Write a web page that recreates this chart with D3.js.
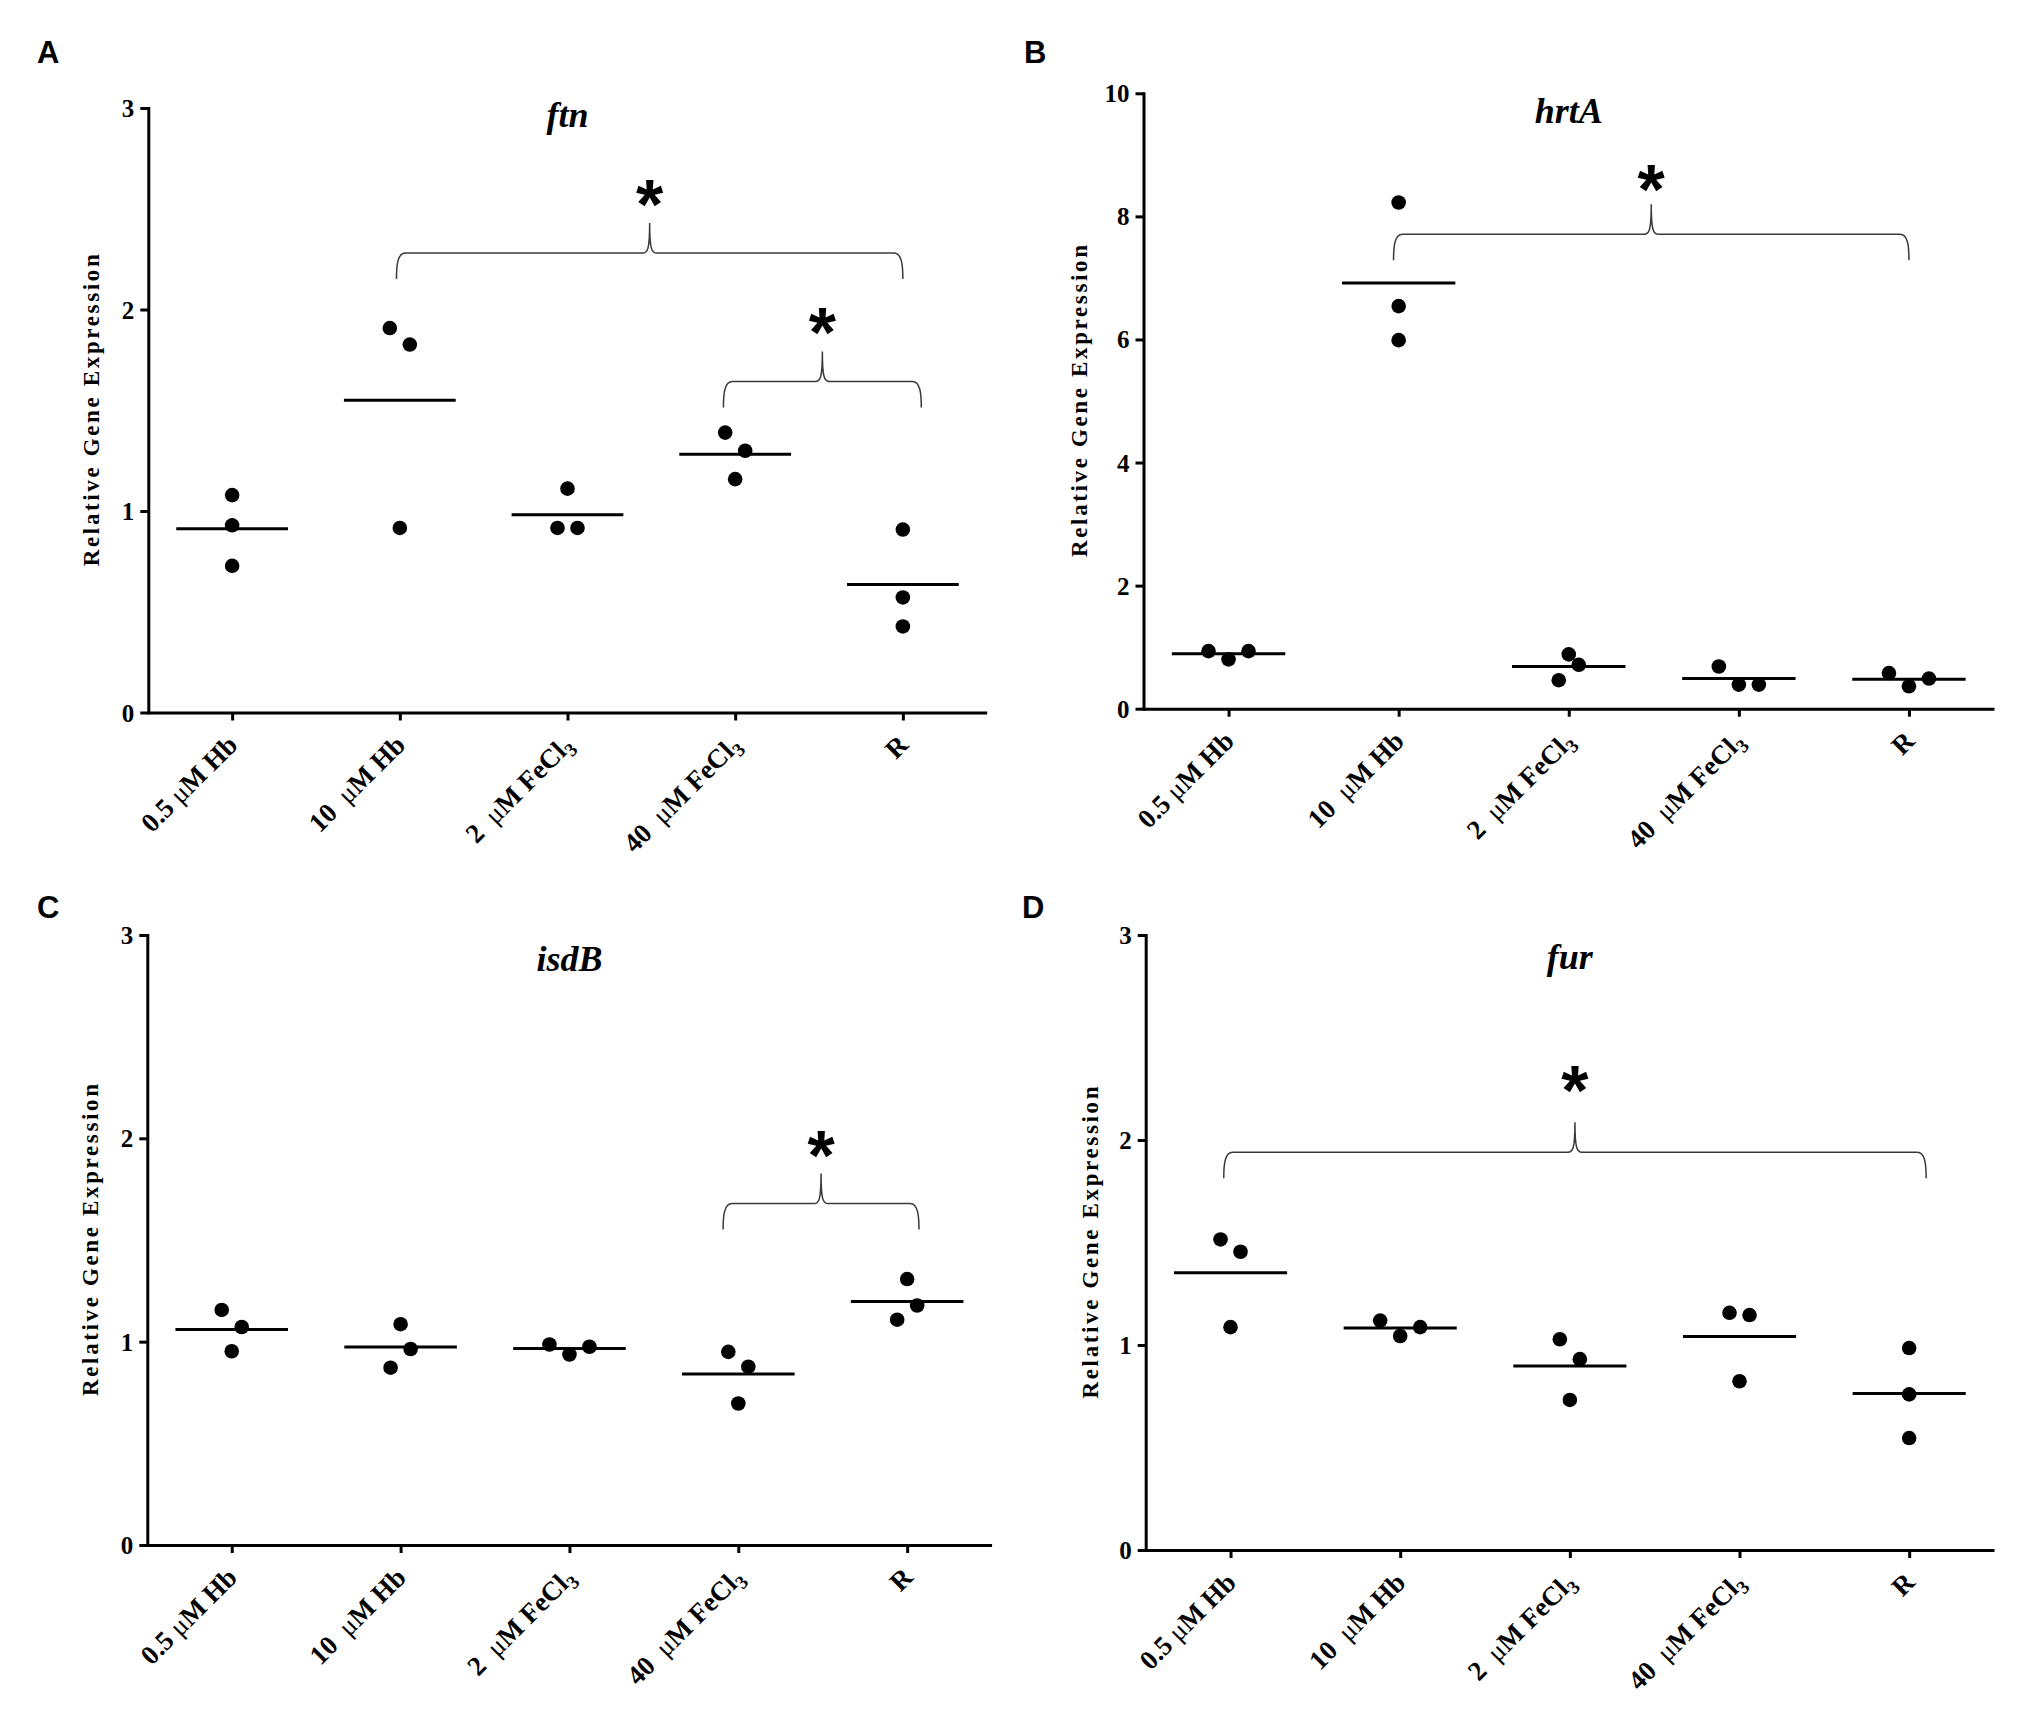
<!DOCTYPE html>
<html>
<head>
<meta charset="utf-8">
<script src="https://cdn.jsdelivr.net/npm/d3@7"></script>
<style>
	body { margin: 0; background: #fff; }
	svg { display: block; }
</style>
</head>
<body>
<div id="chart"></div>
<script>
// x categories, same for all four panels
var categories = ["0.5 μM Hb", "10  μM Hb", "2  μM FeCl3", "40  μM FeCl3", "R"];

var ticks3 = [0, 1, 2, 3];
var ticks10 = [0, 2, 4, 6, 8, 10];

// replicate values per category
var ftnValues = [[1.079, 0.929, 0.728], [1.908, 1.826, 0.916], [1.111, 0.916, 0.916], [1.389, 1.299, 1.158], [0.908, 0.571, 0.427]];
var hrtAValues = [[0.936, 0.802, 0.936], [8.226, 6.542, 5.989], [0.882, 0.713, 0.463], [0.686, 0.392, 0.392], [0.579, 0.365, 0.490]];
var isdBValues = [[1.156, 1.072, 0.953], [1.086, 0.964, 0.872], [0.986, 0.937, 0.975], [0.950, 0.877, 0.696], [1.308, 1.178, 1.108]];
var furValues = [[1.515, 1.455, 1.087], [1.119, 1.044, 1.087], [1.028, 0.931, 0.732], [1.157, 1.146, 0.823], [0.985, 0.759, 0.546]];

// which side of the column each replicate sits on (scatter lane)
var ftnLanes = [[0, 0, 0], [-0.5, 0.5, 0], [0, -0.5, 0.5], [-0.5, 0.5, 0], [0, 0, 0]];
var hrtALanes = [[-1, 0, 1], [0, 0, 0], [0, 0.5, -0.5], [-1, 0, 1], [-1, 0, 1]];
var isdBLanes = [[-0.5, 0.5, 0], [0, 0.5, -0.5], [-1, 0, 1], [-0.5, 0.5, 0], [0, 0.5, -0.5]];
var furLanes = [[-0.5, 0.5, 0], [-1, 0, 1], [-0.5, 0.5, 0], [-0.5, 0.5, 0], [0, 0, 0]];

// significance braces: category index span, brace level and star level (data units)
var ftnBraces = [{from: 0.98, to: 4.0, level: 2.28, star: 2.55}, {from: 2.93, to: 4.11, level: 1.643, star: 1.915}];
var hrtABraces = [{from: 0.97, to: 4.0, level: 7.71, star: 8.53}];
var isdBBraces = [{from: 2.91, to: 4.07, level: 1.679, star: 1.944}];
var furBraces = [{from: -0.04, to: 4.1, level: 1.94, star: 2.27}];

var panels = [
	{letter: "A", gene: "ftn", values: ftnValues, lanes: ftnLanes, braces: ftnBraces, ticks: ticks3,
		left: 148.3, right: 986.7, top: 108, bottom: 712.5, letterX: 37, letterY: 63, titleY: 127, labelGap: 49},
	{letter: "B", gene: "hrtA", values: hrtAValues, lanes: hrtALanes, braces: hrtABraces, ticks: ticks10,
		left: 1143.5, right: 1994, top: 93.3, bottom: 708.7, letterX: 1024, letterY: 63, titleY: 123, labelGap: 57},
	{letter: "C", gene: "isdB", values: isdBValues, lanes: isdBLanes, braces: isdBBraces, ticks: ticks3,
		left: 147.3, right: 991.6, top: 935, bottom: 1545, letterX: 37, letterY: 918, titleY: 971, labelGap: 49},
	{letter: "D", gene: "fur", values: furValues, lanes: furLanes, braces: furBraces, ticks: ticks3,
		left: 1145.7, right: 1994, top: 935, bottom: 1550, letterX: 1022, letterY: 918, titleY: 969, labelGap: 48}
];

var serif = "'Liberation Serif', 'Times New Roman', serif";
var sans = "'Liberation Sans', Arial, sans-serif";
var starSize = 70;

var svg = d3.select("#chart").append("svg")
	.attr("width", 2025)
	.attr("height", 1725)
	.style("background", "#fff");

panels.forEach(function(p) {
	drawPanel(p);
});

// split a category label into pieces: thin mu, subscript 3, plain bold text
function labelParts(c) {
	return c.split(/(μ|3$)/).filter(function(s) { return s.length; }).map(function(s, i, arr) {
		return {
			text: s.replace(/ /g, "\u00a0"),
			mu: s == "μ",
			sub: s == "3" && i == arr.length - 1
		};
	});
}

function drawPanel(p) {
	var g = svg.append("g");

	var x = d3.scalePoint()
		.domain(categories)
		.range([p.left, p.right])
		.padding(0.5);
	var step = x.step();

	// fractional category index -> pixel, used by the braces
	var xi = d3.scaleLinear()
		.domain([0, categories.length - 1])
		.range([x(categories[0]), x(categories[categories.length - 1])]);

	var y = d3.scaleLinear()
		.domain([0, d3.max(p.ticks)])
		.range([p.bottom, p.top]);

	// panel letter
	g.append("text")
		.attr("x", p.letterX)
		.attr("y", p.letterY)
		.attr("font-family", sans)
		.attr("font-weight", "bold")
		.attr("font-size", 31)
		.text(p.letter);

	// gene title
	g.append("text")
		.attr("x", (p.left + p.right) / 2)
		.attr("y", p.titleY)
		.attr("text-anchor", "middle")
		.attr("font-family", serif)
		.attr("font-weight", "bold")
		.attr("font-style", "italic")
		.attr("font-size", 36)
		.text(p.gene);

	// y axis
	var yAxis = g.append("g")
		.attr("transform", "translate(" + p.left + ",0)")
		.call(d3.axisLeft(y).tickValues(p.ticks).tickFormat(d3.format("d"))
			.tickSize(8).tickSizeOuter(0).tickPadding(6));
	yAxis.selectAll("path, line").attr("stroke", "#000").attr("stroke-width", 3);
	yAxis.select(".domain").attr("stroke-linecap", "square");
	yAxis.selectAll("text")
		.attr("font-family", serif)
		.attr("font-weight", "bold")
		.attr("font-size", 25)
		.attr("fill", "#000")
		.attr("dy", "0.34em");

	// x axis
	var xAxis = g.append("g")
		.attr("transform", "translate(0," + p.bottom + ")")
		.call(d3.axisBottom(x).tickSize(8).tickSizeOuter(0));
	xAxis.selectAll("path, line").attr("stroke", "#000").attr("stroke-width", 3);
	xAxis.selectAll("text").remove();

	categories.forEach(function(c) {
		var t = g.append("text")
			.attr("transform", "translate(" + (x(c) + 7) + "," + (p.bottom + 34) + ") rotate(-45)")
			.attr("text-anchor", "end")
			.attr("font-family", serif)
			.attr("font-weight", "bold")
			.attr("font-size", 27);
		labelParts(c).forEach(function(part) {
			var s = t.append("tspan").text(part.text);
			if (part.mu) s.attr("font-weight", "normal");
			if (part.sub) s.attr("font-size", 19).attr("dy", 6);
		});
	});

	// y axis title
	g.append("text")
		.attr("transform", "translate(" + (p.left - p.labelGap) + "," + ((p.top + p.bottom) / 2) + ") rotate(-90)")
		.attr("text-anchor", "middle")
		.attr("font-family", serif)
		.attr("font-weight", "bold")
		.attr("font-size", 23)
		.attr("textLength", 312)
		.attr("lengthAdjust", "spacing")
		.text("Relative Gene Expression");

	// mean lines
	g.selectAll(".mean")
		.data(p.values)
		.enter()
		.append("line")
		.attr("class", "mean")
		.attr("x1", function(d, i) { return x(categories[i]) - step / 3; })
		.attr("x2", function(d, i) { return x(categories[i]) + step / 3; })
		.attr("y1", function(d) { return y(d3.mean(d)); })
		.attr("y2", function(d) { return y(d3.mean(d)); })
		.attr("stroke", "#000")
		.attr("stroke-width", 3);

	// replicate dots
	var pts = [];
	p.values.forEach(function(vals, i) {
		vals.forEach(function(v, j) {
			pts.push({cat: categories[i], value: v, lane: p.lanes[i][j]});
		});
	});
	g.selectAll(".dot")
		.data(pts)
		.enter()
		.append("circle")
		.attr("class", "dot")
		.attr("cx", function(d) { return x(d.cat) + d.lane * 20; })
		.attr("cy", function(d) { return y(d.value); })
		.attr("r", 7.3)
		.attr("fill", "#000");

	// braces with stars
	p.braces.forEach(function(b) {
		var x1 = xi(b.from), x2 = xi(b.to), xm = (x1 + x2) / 2;
		var yl = y(b.level);
		var path = d3.path();
		path.moveTo(x1, yl + 26);
		path.bezierCurveTo(x1, yl + 12, x1 + 1, yl, x1 + 9, yl);
		path.lineTo(xm - 7, yl);
		path.bezierCurveTo(xm - 2, yl, xm, yl - 4, xm, yl - 30);
		path.bezierCurveTo(xm, yl - 4, xm + 2, yl, xm + 7, yl);
		path.lineTo(x2 - 9, yl);
		path.bezierCurveTo(x2 - 1, yl, x2, yl + 12, x2, yl + 26);
		g.append("path")
			.attr("d", path.toString())
			.attr("fill", "none")
			.attr("stroke", "#3a3a3a")
			.attr("stroke-width", 1.5);

		g.append("text")
			.attr("x", xm)
			.attr("y", y(b.star) + starSize * 0.43)
			.attr("text-anchor", "middle")
			.attr("font-family", sans)
			.attr("font-weight", "bold")
			.attr("font-size", starSize)
			.text("*");
	});
}
</script>
</body>
</html>
